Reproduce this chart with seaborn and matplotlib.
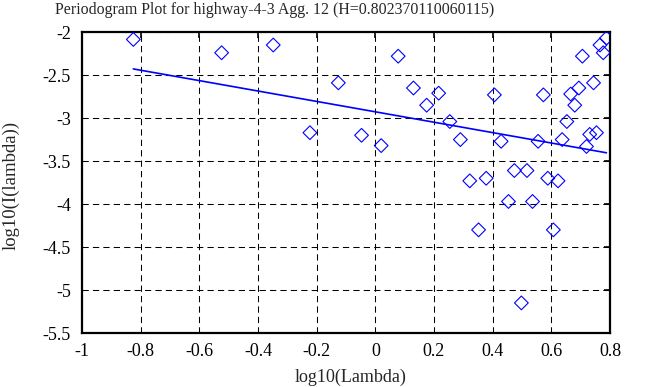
import matplotlib
matplotlib.use('Agg')
import matplotlib.pyplot as plt
import seaborn as sns
import pandas as pd

# log10 of Fourier frequencies and log10 of periodogram ordinates
log_lambda = [-0.825, -0.524, -0.348, -0.223, -0.126, -0.047, 0.020, 0.078,
              0.130, 0.175, 0.216, 0.254, 0.290, 0.322, 0.352, 0.378, 0.406,
              0.429, 0.454, 0.474, 0.498, 0.517, 0.536, 0.555, 0.573, 0.588,
              0.607, 0.623, 0.637, 0.653, 0.666, 0.680, 0.694, 0.706, 0.720,
              0.731, 0.744, 0.754, 0.766, 0.777, 0.788]
log_I = [-2.085, -2.24, -2.15, -3.17, -2.59, -3.20, -3.32, -2.28,
         -2.65, -2.85, -2.71, -3.04, -3.25, -3.73, -4.30, -3.70, -2.73,
         -3.27, -3.97, -3.61, -5.15, -3.61, -3.97, -3.27, -2.73, -3.70,
         -4.30, -3.73, -3.25, -3.04, -2.72, -2.85, -2.65, -2.28, -3.33,
         -3.19, -2.59, -3.17, -2.15, -2.24, -2.07]

slope = -0.6047
intercept = -2.927
H = 0.802370110060115

x_ticks = [-1, -0.8, -0.6, -0.4, -0.2, 0, 0.2, 0.4, 0.6, 0.8]
y_ticks = [-5.5, -5, -4.5, -4, -3.5, -3, -2.5, -2]

df = pd.DataFrame({'x': log_lambda, 'y': log_I})
fit = pd.DataFrame({'x': [log_lambda[0], log_lambda[-1]]})
fit['y'] = intercept + slope * fit['x']

sns.set_style('white')
plt.rcParams['font.family'] = ['Liberation Serif', 'DejaVu Serif']

fig = plt.figure(figsize=(6.63, 3.87), dpi=100)
ax = fig.add_axes([0.1237, 0.1395, 0.7963, 0.7775])

sns.scatterplot(data=df, x='x', y='y', marker='D', s=49, facecolors='none',
                edgecolor='blue', linewidth=0.8, ax=ax, zorder=3)
sns.lineplot(data=fit, x='x', y='y', color='blue', linewidth=1.2, ax=ax, zorder=3)

ax.set_xlim(-1, 0.8)
ax.set_ylim(-5.5, -2)
ax.set_xticks(x_ticks)
ax.set_yticks(y_ticks)
ax.set_xticklabels([f'{t:g}' for t in x_ticks])
ax.set_yticklabels([f'{t:g}' for t in y_ticks])
ax.grid(True, color='black', linestyle=(0, (6, 4)), linewidth=0.75)
ax.tick_params(direction='in', length=4.5, width=1.2, top=True, right=True,
               labelsize=13, colors='black')
ax.tick_params(axis='x', pad=7)
ax.tick_params(axis='y', pad=8)
for sp in ax.spines.values():
    sp.set_linewidth(1.6)
    sp.set_color('black')

fig.text(55 / 663, 1 - 2 / 387, f'Periodogram Plot for highway-4-3 Agg. 12 (H={H})',
         fontsize=11.4, ha='left', va='top')
ax.set_xlabel('log10(Lambda)', fontsize=13)
ax.set_ylabel('log10(I(lambda))', fontsize=13.5)
ax.xaxis.set_label_coords(0.508, -0.118)
ax.yaxis.set_label_coords(-0.119, 0.49)

fig.savefig('out.png', dpi=100)
